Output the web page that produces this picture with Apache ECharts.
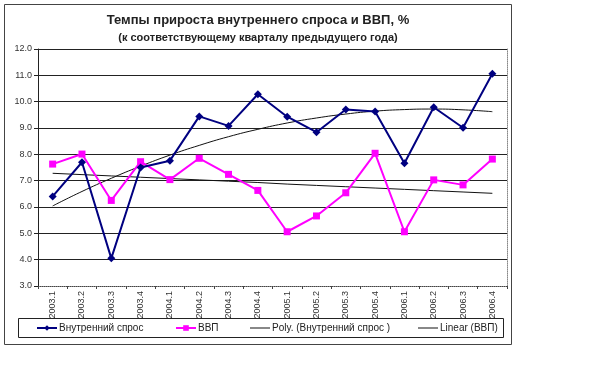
<!DOCTYPE html>
<html>
<head>
<meta charset="utf-8">
<script src="https://cdn.jsdelivr.net/npm/echarts@6/dist/echarts.min.js"></script>
<style>html,body{margin:0;padding:0;background:#fff;}#c{width:600px;height:375px;}</style>
</head>
<body>
<div id="c"></div>
<script>
var categories = ['2003.1','2003.2','2003.3','2003.4','2004.1','2004.2','2004.3','2004.4','2005.1','2005.2','2005.3','2005.4','2006.1','2006.2','2006.3','2006.4'];
var domesticDemand = [6.4, 7.7, 4.05, 7.5, 7.76, 9.44, 9.08, 10.28, 9.43, 8.84, 9.7, 9.63, 7.66, 9.79, 9.01, 11.06];
var gdp = [7.63, 8.01, 6.25, 7.72, 7.04, 7.85, 7.24, 6.63, 5.06, 5.66, 6.54, 8.04, 5.06, 7.03, 6.84, 7.82];
var polyTrend = [6.04, 6.59, 7.09, 7.55, 7.97, 8.34, 8.67, 8.95, 9.19, 9.38, 9.53, 9.64, 9.70, 9.72, 9.69, 9.62];
var linearTrend = [7.28, 7.23, 7.18, 7.13, 7.08, 7.03, 6.98, 6.93, 6.87, 6.82, 6.77, 6.72, 6.67, 6.62, 6.57, 6.52];
var yTicks = { min: 3, max: 12, interval: 1 };
var names = ['Внутренний спрос', 'ВВП', 'Poly. (Внутренний спрос )', 'Linear (ВВП)'];

var font = 'Liberation Sans, Arial, sans-serif';
var chart = echarts.init(document.getElementById('c'), null, { renderer: 'canvas' });
function lg(name, left, isTrend) {
  var o = {
    data: [name], left: left, top: 322, itemWidth: 20, itemHeight: 7, itemGap: 0,
    padding: 0, selectedMode: false,
    textStyle: { fontFamily: font, fontSize: 10, color: '#222', padding: [0, 0, 0, -3], height: 12, lineHeight: 12 }
  };
  if (isTrend) {
    o.icon = 'rect';
    o.itemHeight = 1;
  }
  return o;
}
chart.setOption({
  animation: false,
  backgroundColor: '#fff',
  title: {
    text: 'Темпы прироста внутреннего спроса и ВВП, %',
    subtext: '(к соответствующему кварталу предыдущего года)',
    left: 258, top: 14, textAlign: 'center', itemGap: 5, padding: 0,
    textStyle: { fontFamily: font, fontSize: 13, fontWeight: 'bold', color: '#222' },
    subtextStyle: { fontFamily: font, fontSize: 11, fontWeight: 'bold', color: '#222' }
  },
  graphic: [
    { type: 'rect', shape: { x: 4.5, y: 4.5, width: 507, height: 340 }, style: { fill: 'none', stroke: '#444', lineWidth: 1 }, z: -1 },
    { type: 'rect', shape: { x: 18.5, y: 318.5, width: 485, height: 19 }, style: { fill: 'none', stroke: '#222', lineWidth: 1 }, z: -1 }
  ],
  legend: [lg(names[0], 36, false), lg(names[1], 175, false), lg(names[2], 250, true), lg(names[3], 418, true)],
  grid: { left: 38, right: 93, top: 49, bottom: 89 },
  xAxis: {
    type: 'category', data: categories, boundaryGap: true,
    axisLine: { lineStyle: { color: '#444', type: 'dotted', width: 1 } },
    axisTick: { show: true, alignWithLabel: false, length: 3, lineStyle: { color: '#444', type: 'solid' } },
    axisLabel: { rotate: 90, fontFamily: font, fontSize: 9, color: '#333', margin: 5, interval: 0 }
  },
  yAxis: [{
    type: 'value', min: yTicks.min, max: yTicks.max, interval: yTicks.interval,
    axisLine: { show: true, lineStyle: { color: '#222', width: 1 } },
    axisTick: { show: true, length: 4, lineStyle: { color: '#222' } },
    axisLabel: { fontFamily: font, fontSize: 9, color: '#333', margin: 6, formatter: function (v) { return v.toFixed(1); } },
    splitLine: { show: true, showMinLine: false, lineStyle: { color: '#222', width: 1 } }
  }, {
    type: 'value', position: 'right', min: yTicks.min, max: yTicks.max, interval: yTicks.interval,
    axisLine: { show: true, lineStyle: { color: '#888', type: 'dotted', width: 1 } },
    axisTick: { show: false }, axisLabel: { show: false }, splitLine: { show: false }
  }],
  series: [
    { name: names[0], type: 'line', data: domesticDemand, symbol: 'diamond', symbolSize: 8,
      lineStyle: { color: '#000080', width: 2 }, itemStyle: { color: '#000080' }, z: 4 },
    { name: names[1], type: 'line', data: gdp, symbol: 'rect', symbolSize: 7,
      lineStyle: { color: '#FF00FF', width: 2 }, itemStyle: { color: '#FF00FF' }, z: 3 },
    { name: names[2], type: 'line', data: polyTrend, symbol: 'none', smooth: true,
      lineStyle: { color: '#111', width: 1 }, itemStyle: { color: '#111' }, z: 2 },
    { name: names[3], type: 'line', data: linearTrend, symbol: 'none',
      lineStyle: { color: '#111', width: 1 }, itemStyle: { color: '#111' }, z: 2 }
  ]
});
</script>
</body>
</html>
